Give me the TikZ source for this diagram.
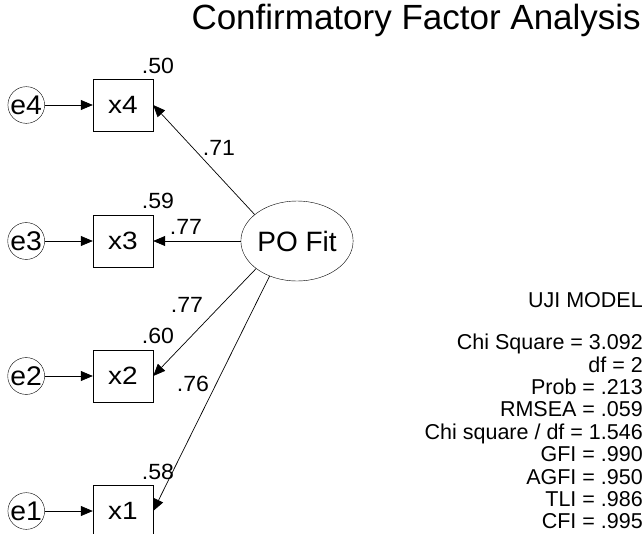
\documentclass[tikz,border=0pt]{standalone}
\usepackage{fontspec}
\setmainfont{Liberation Sans}
\newfontfamily\widefont[FakeStretch=1.12]{Liberation Sans}
\newfontfamily\errfont[FakeStretch=1.05]{Liberation Sans}
\newfontfamily\coeffont[FakeStretch=1.05]{Liberation Sans}
\usetikzlibrary{positioning, arrows.meta, shapes}

\begin{document}
\begin{tikzpicture}[
    x=1pt, y=-1pt,
    node distance=48pt,
    obs/.style={rectangle, draw=black, minimum width=60pt, minimum height=52pt, inner sep=0pt, font=\widefont\fontsize{25}{28}\selectfont},
    err/.style={circle, draw=black, minimum size=32pt, inner sep=0pt, font=\errfont\fontsize{27}{28}\selectfont},
    latent/.style={ellipse, draw=black, minimum width=112pt, minimum height=80pt, inner sep=0pt, font=\fontsize{28}{30}\selectfont},
    coef/.style={inner sep=0pt, font=\coeffont\fontsize{22}{24}\selectfont},
    arrow/.style={-{Triangle[length=12pt, width=10pt]}, line width=0.7pt}
]
    \useasboundingbox (0,0) rectangle (644,533);
    \clip (0,0) rectangle (644,533);

    % Title
    \node[anchor=base east, inner sep=0pt, font=\fontsize{35}{42}\selectfont] (title) at (641,29) {Confirmatory Factor Analysis};

    % Factor and indicators
    \node[latent] (po) at (297,241) {PO Fit};
    \node[obs] (x4) at (123,105) {x4};
    \node[obs] (x3) at (123,241) {x3};
    \node[obs] (x2) at (123,376) {x2};
    \node[obs] (x1) at (123,511) {x1};

    % Error terms
    \node[err, left=of x4] (e4) {e4};
    \node[err, left=of x3] (e3) {e3};
    \node[err, left=of x2] (e2) {e2};
    \node[err, left=of x1] (e1) {e1};
    \draw[arrow] (e4) -- (x4);
    \draw[arrow] (e3) -- (x3);
    \draw[arrow] (e2) -- (x2);
    \draw[arrow] (e1) -- (x1);

    % Loadings
    \draw[arrow] (po.148) -- (x4.east);
    \draw[arrow] (po) -- (x3);
    \draw[arrow] (po.214) -- (x2.east);
    \draw[arrow] (po.232) -- (x1.east);

    \node[coef] (l4) at (219,148) {.71};
    \node[coef] (l3) at (186,227) {.77};
    \node[coef] (l2) at (187,305) {.77};
    \node[coef] (l1) at (193,384) {.76};

    % Squared multiple correlations
    \node[coef] (r4) at (158,66) {.50};
    \node[coef] (r3) at (158,201) {.59};
    \node[coef] (r2) at (158,336) {.60};
    \node[coef] (r1) at (158,472) {.58};

    % Fit summary
    \node[anchor=north east, align=right, inner sep=0pt, font=\fontsize{21.5}{22.4}\selectfont] (fit) at (643,292) {UJI MODEL\\[20pt]
        Chi Square = 3.092\\df = 2\\Prob = .213\\RMSEA = .059\\Chi square / df = 1.546\\GFI = .990\\AGFI = .950\\TLI = .986\\CFI = .995};
\end{tikzpicture}
\end{document}
